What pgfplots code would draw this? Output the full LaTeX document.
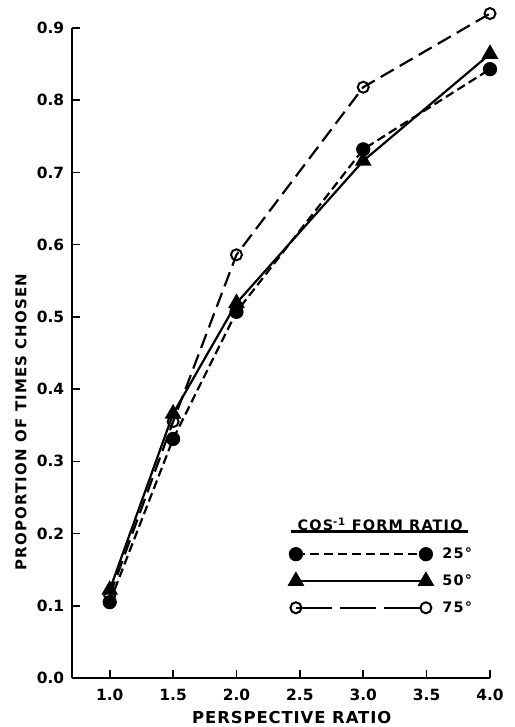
\documentclass[border=0pt]{standalone}
\usepackage{fontspec}
\setmainfont{DejaVu Sans}
\newfontfamily\tk[LetterSpace=0]{DejaVu Sans}
\newfontfamily\ylab[LetterSpace=8]{DejaVu Sans}
\newfontfamily\xlab[LetterSpace=5.5]{DejaVu Sans}
\newfontfamily\leg[LetterSpace=8]{DejaVu Sans}
\usepackage{pgfplots}
\pgfplotsset{compat=1.18}
\begin{document}
\begin{tikzpicture}
\useasboundingbox (-71.7bp,-49bp) rectangle (443.3bp,678bp);
\begin{axis}[
  scale only axis, width=418.3bp, height=650bp,
  at={(0,0)}, anchor=south west,
  xmin=0.7, xmax=4.0, ymin=0, ymax=0.9,
  clip=false,
  axis lines*=left,
  axis line style={line width=1.8bp},
  tick style={line width=1.6bp, black},
  tick align=inside,
  major tick length=8bp,
  xtick={1,1.5,2,2.5,3,3.5,4},
  ytick={0,0.1,0.2,0.3,0.4,0.5,0.6,0.7,0.8,0.9},
  xticklabel style={font=\tk\bfseries\fontsize{15.5}{18}\selectfont, yshift=-8bp},
  yticklabel style={font=\tk\bfseries\fontsize{15.5}{18}\selectfont, xshift=-4bp},
  /pgf/number format/fixed,
  /pgf/number format/fixed zerofill,
  /pgf/number format/precision=1,
  /pgf/number format/assume math mode=true,
  xlabel={PERSPECTIVE RATIO},
  ylabel={PROPORTION OF TIMES CHOSEN},
  xlabel style={font=\xlab\bfseries\fontsize{16.5}{19}\selectfont, at={(axis description cs:0.526,-0.0615)}, anchor=center},
  ylabel style={font=\ylab\bfseries\fontsize{15}{18}\selectfont, at={(axis description cs:-0.1212,0.394)}, anchor=center},
  legend image code/.code={\draw[#1] plot coordinates {(0bp,0bp) (130bp,0bp)};},
  legend style={draw=none, fill=none, at={(axis cs:2.416,0.183)}, anchor=north west,
    font=\leg\bfseries\fontsize{14.5}{17}\selectfont, row sep=10.5bp, inner sep=0pt,
    /tikz/every odd column/.append style={column sep=8bp}},
  legend cell align=left,
]
\addplot[forget plot, black, line width=2.2bp, dash pattern=on 9bp off 4.5bp, mark=*, mark size=6bp, mark options={solid, fill=black}]
  coordinates {(1,0.105) (1.5,0.331) (2,0.507) (3,0.732) (4,0.843)};
\addplot[forget plot, black, line width=2.2bp, mark=triangle*, mark size=7.5bp, mark options={solid, fill=black}]
  coordinates {(1,0.122) (1.5,0.366) (2,0.519) (3,0.716) (4,0.864)};
\addplot[forget plot, black, line width=2.2bp, dash pattern=on 15bp off 7bp, mark=o, mark size=5.5bp, mark options={solid, fill=white, line width=2bp}]
  coordinates {(1,0.114) (1.5,0.355) (2,0.586) (3,0.818) (4,0.920)};
\addlegendimage{black, line width=2.2bp, dash pattern=on 9.5bp off 4.5bp, mark=*, mark size=6bp, mark options={solid, fill=black}}
\addlegendentry{25°}
\addlegendimage{black, line width=2.2bp, mark=triangle*, mark size=7.5bp, mark options={solid, fill=black}}
\addlegendentry{50°}
\addlegendimage{black, line width=2.2bp, dash pattern=on 36bp off 8bp, mark=o, mark size=5.5bp, mark options={solid, fill=white, line width=2bp}}
\addlegendentry{75°}
\node[font=\leg\bfseries\fontsize{14.5}{17}\selectfont] at (axis cs:3.133,0.213) {COS\textsuperscript{-1} FORM RATIO};
\draw[line width=2.5bp] (axis cs:2.433,0.203) -- (axis cs:3.83,0.203);
\end{axis}
\end{tikzpicture}
\end{document}
